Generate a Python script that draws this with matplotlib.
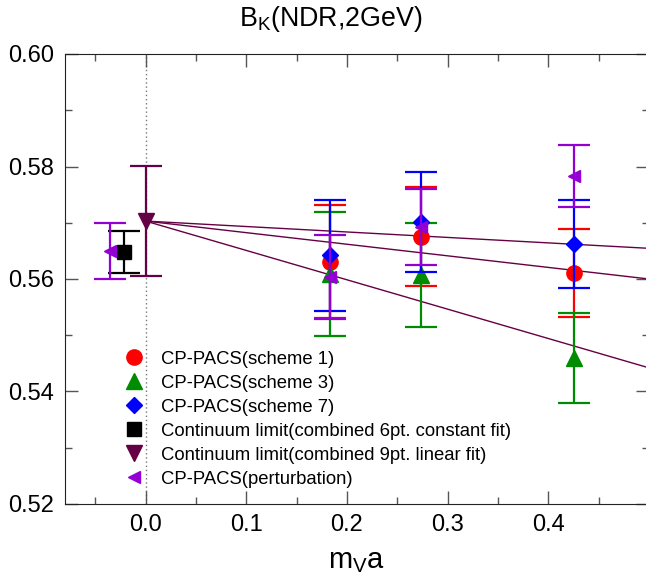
import numpy as np
import matplotlib
matplotlib.use('Agg')
import matplotlib.pyplot as plt
from matplotlib.lines import Line2D

plt.rcParams['font.family'] = ['Liberation Sans', 'DejaVu Sans']

# --- data ---
mva = [0.183, 0.274, 0.426]

s1_val = [0.5631, 0.5675, 0.5610]
s1_err = [0.0100, 0.0088, 0.0078]

s3_val = [0.5609, 0.5607, 0.5459]
s3_err = [0.0110, 0.0093, 0.0080]

s7_val = [0.5642, 0.5701, 0.5662]
s7_err = [0.0099, 0.0089, 0.0078]

pert_x = [-0.035, 0.183, 0.274, 0.426]
pert_val = [0.5650, 0.5604, 0.5692, 0.5783]
pert_err = [0.0050, 0.0075, 0.0068, 0.0055]

const_x, const_val, const_err = -0.021, 0.5648, 0.0038
lin_x, lin_val, lin_err = 0.0, 0.5703, 0.0098

# slopes of the three linear fits from the continuum value
fit_slopes = [-0.0097, -0.0206, -0.0522]

labels = ['CP-PACS(scheme 1)', 'CP-PACS(scheme 3)', 'CP-PACS(scheme 7)',
          'Continuum limit(combined 6pt. constant fit)',
          'Continuum limit(combined 9pt. linear fit)',
          'CP-PACS(perturbation)']

red = '#ff0000'
green = '#008c00'
blue = '#0000ff'
maroon = '#660044'
violet = '#9400d3'

fig = plt.figure(figsize=(6.46, 5.86), dpi=100)
ax = fig.add_axes([65/646, 82/586, 584/646, 450/586])

ax.axvline(0.0, color='#777777', ls=(0, (1, 2)), lw=1.0, zorder=1)

xx = np.array([0.0, 0.5])
for s in fit_slopes:
    ax.plot(xx, lin_val + s*xx, color=maroon, lw=1.0, zorder=2)

ek = dict(capsize=11.5, elinewidth=1.6, capthick=1.6, ls='none')
ax.errorbar(mva, s1_val, yerr=s1_err, color=red, marker='o', ms=11, zorder=3, **ek)
ax.errorbar(mva, s3_val, yerr=s3_err, color=green, marker='^', ms=11, zorder=4, **ek)
ax.errorbar(mva, s7_val, yerr=s7_err, color=blue, marker='D', ms=8, zorder=5, **ek)
ax.errorbar([const_x], [const_val], yerr=[const_err], color='black', marker='s', ms=10, zorder=5, **ek)
ax.errorbar([lin_x], [lin_val], yerr=[lin_err], color=maroon, marker='v', ms=11, zorder=5, **ek)
ax.errorbar(pert_x, pert_val, yerr=pert_err, color=violet, marker='<', ms=8, zorder=6, **ek)

handles = [Line2D([], [], color=red, marker='o', ms=11, ls='none'),
           Line2D([], [], color=green, marker='^', ms=11, ls='none'),
           Line2D([], [], color=blue, marker='D', ms=8, ls='none'),
           Line2D([], [], color='black', marker='s', ms=10, ls='none'),
           Line2D([], [], color=maroon, marker='v', ms=11, ls='none'),
           Line2D([], [], color=violet, marker='<', ms=8, ls='none')]
ax.legend(handles, labels, loc='upper left', bbox_to_anchor=(0.089, 0.357),
          frameon=False, fontsize=13.3, handlelength=1.0, handletextpad=1.0,
          labelspacing=0.38, borderaxespad=0)

ax.set_xlim(-0.08, 0.5)
ax.set_ylim(0.52, 0.60)
ax.set_xticks([0.0, 0.1, 0.2, 0.3, 0.4])
ax.set_xticks(np.arange(-0.05, 0.5, 0.1), minor=True)
ax.set_yticks([0.52, 0.54, 0.56, 0.58, 0.60])
ax.set_yticks([0.53, 0.55, 0.57, 0.59], minor=True)
ax.xaxis.set_major_formatter(matplotlib.ticker.FormatStrFormatter('%.1f'))
ax.yaxis.set_major_formatter(matplotlib.ticker.FormatStrFormatter('%.2f'))
ax.tick_params(which='both', direction='in', top=True, right=True,
               color='#555555', labelsize=17)
ax.tick_params(which='major', length=9.5, width=1.0)
ax.tick_params(which='minor', length=5, width=1.0)
ax.tick_params(axis='y', which='major', pad=8)
ax.tick_params(axis='x', which='major', pad=7)
for sp in ax.spines.values():
    sp.set_color('#222222')

ax.set_xlabel(r'm$_\mathregular{V}$a', fontsize=21, labelpad=8)
ax.set_title(r'B$_\mathregular{K}$(NDR,2GeV)', fontsize=19.3, pad=20,
             x=(331 - 65) / 584)

fig.savefig('out.png', dpi=100)
